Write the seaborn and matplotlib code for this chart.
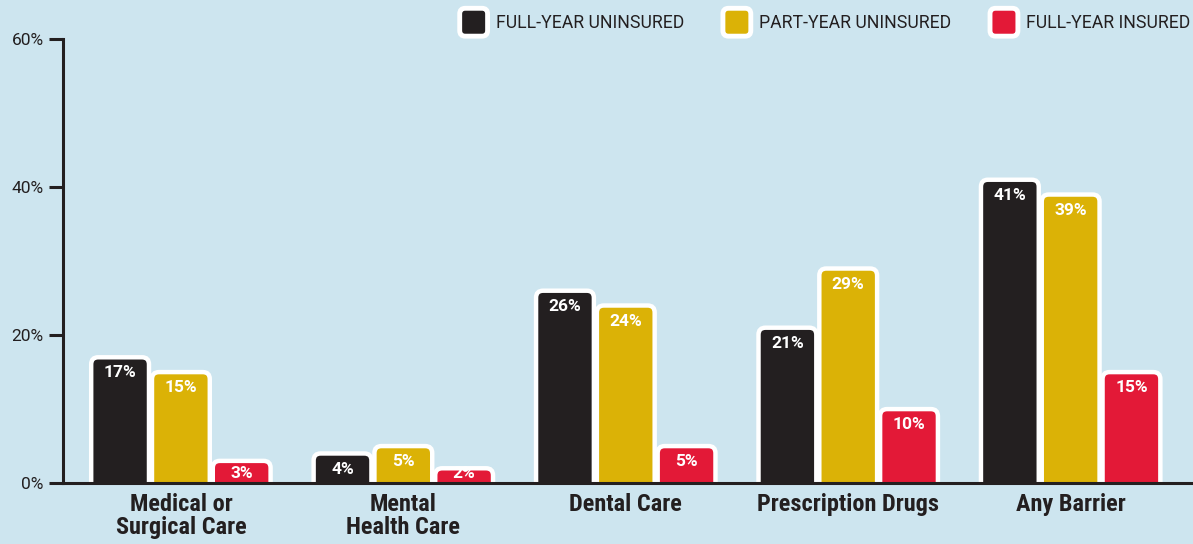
import matplotlib
matplotlib.use("Agg")
import matplotlib.pyplot as plt
import seaborn as sns
import pandas as pd
from matplotlib.patches import FancyBboxPatch, Patch
from matplotlib.legend_handler import HandlerPatch
from matplotlib import font_manager

categories = ["Medical or\nSurgical Care", "Mental\nHealth Care", "Dental Care",
              "Prescription Drugs", "Any Barrier"]
series = ["FULL-YEAR UNINSURED", "PART-YEAR UNINSURED", "FULL-YEAR INSURED"]
full_year_uninsured = [17, 4, 26, 21, 41]
part_year_uninsured = [15, 5, 24, 29, 39]
full_year_insured = [3, 2, 5, 10, 15]
yticks = [0, 20, 40, 60]
ytick_labels = ["0%", "20%", "40%", "60%"]

colors = ["#231f20", "#dbb206", "#e31937"]
bg = "#cde5ef"

rows = []
for s, vals in zip(series, [full_year_uninsured, part_year_uninsured, full_year_insured]):
    for c, v in zip(categories, vals):
        rows.append({"category": c, "series": s, "value": v})
df = pd.DataFrame(rows)

sns.set_style("white")
names = {f.name for f in font_manager.fontManager.ttflist}
cand = [n for n in ["Roboto Condensed", "Liberation Sans Narrow", "DejaVu Sans Condensed"]
        if n in names]
base = ["Roboto", "DejaVu Sans"]
cond = cand[:1] + base
plt.rcParams["font.family"] = base

fig = plt.figure(figsize=(11.93, 5.44), dpi=100, facecolor=bg)
ax = fig.add_axes([0.0528, 0.112, 0.9472, 0.816])
ax.set_facecolor(bg)

sns.barplot(data=df, x="category", y="value", hue="series", order=categories,
            hue_order=series, palette=colors, saturation=1, width=0.82, gap=0.0,
            ax=ax, legend=False, errorbar=None)

ax.set_xlim(-0.53, 4.55)
ax.set_ylim(0, 60)

px_per_x = 1193 * 0.9472 / (4.55 + 0.53)
px_per_y = 544 * 0.816 / 60
rad_px = 7
aspect = px_per_x / px_per_y
patches = list(ax.patches)
for p in patches:
    x, w, h = p.get_x(), p.get_width(), p.get_height()
    fc = p.get_facecolor()
    p.remove()
    inset = 3 / px_per_x
    fb = FancyBboxPatch((x + inset / 2, -3), w - inset, h + 3,
                        boxstyle=f"round,pad=0,rounding_size={rad_px / px_per_x}",
                        mutation_aspect=aspect,
                        facecolor=fc, edgecolor="white", linewidth=3.2, zorder=2)
    ax.add_patch(fb)
    cx = x + w / 2
    ty = max(h - 2.1, 1.3)
    ax.text(cx, ty, f"{h:g}%", ha="center", va="center", color="white",
            fontsize=12.5, fontweight="bold", zorder=3)

for s in ["top", "right"]:
    ax.spines[s].set_visible(False)
for s in ["left", "bottom"]:
    ax.spines[s].set_linewidth(2.2)
    ax.spines[s].set_color("#231f20")
    ax.spines[s].set_zorder(5)

ax.set_yticks(yticks)
ax.set_yticklabels(ytick_labels, fontsize=12.5, color="#231f20")
ax.tick_params(axis="y", length=10, width=2.2, color="#231f20", left=True, pad=4)
ax.tick_params(axis="x", length=0, pad=7.5)
for lbl in ax.get_xticklabels():
    lbl.set_fontsize(17.5)
    lbl.set_fontweight("bold")
    lbl.set_family(cond)
    lbl.set_color("#231f20")
    lbl.set_linespacing(1.0)
ax.set_xlabel("")
ax.set_ylabel("")
ax.grid(False)


class RoundHandler(HandlerPatch):
    def create_artists(self, legend, orig_handle, xdescent, ydescent, width, height,
                       fontsize, trans):
        s = min(width, height) * 1.45
        cx = -xdescent + width / 2
        cy = -ydescent + height / 2
        fb = FancyBboxPatch((cx - s / 2, cy - s / 2), s, s,
                            boxstyle=f"round,pad=0,rounding_size={s * 0.2}",
                            facecolor=orig_handle.get_facecolor(), edgecolor="white",
                            linewidth=3.5, transform=trans)
        return [fb]


handles = [Patch(facecolor=c, edgecolor="white") for c in colors]
fig.legend(handles, series, loc="upper right", ncol=3, frameon=False,
           bbox_to_anchor=(1.011, 1.006), handlelength=1.3,
           handleheight=1.3, columnspacing=2.35, handletextpad=0.6,
           labelcolor="#231f20", prop={"size": 12.7, "family": base},
           handler_map={Patch: RoundHandler()})

fig.savefig("out.png", dpi=100, facecolor=bg)
